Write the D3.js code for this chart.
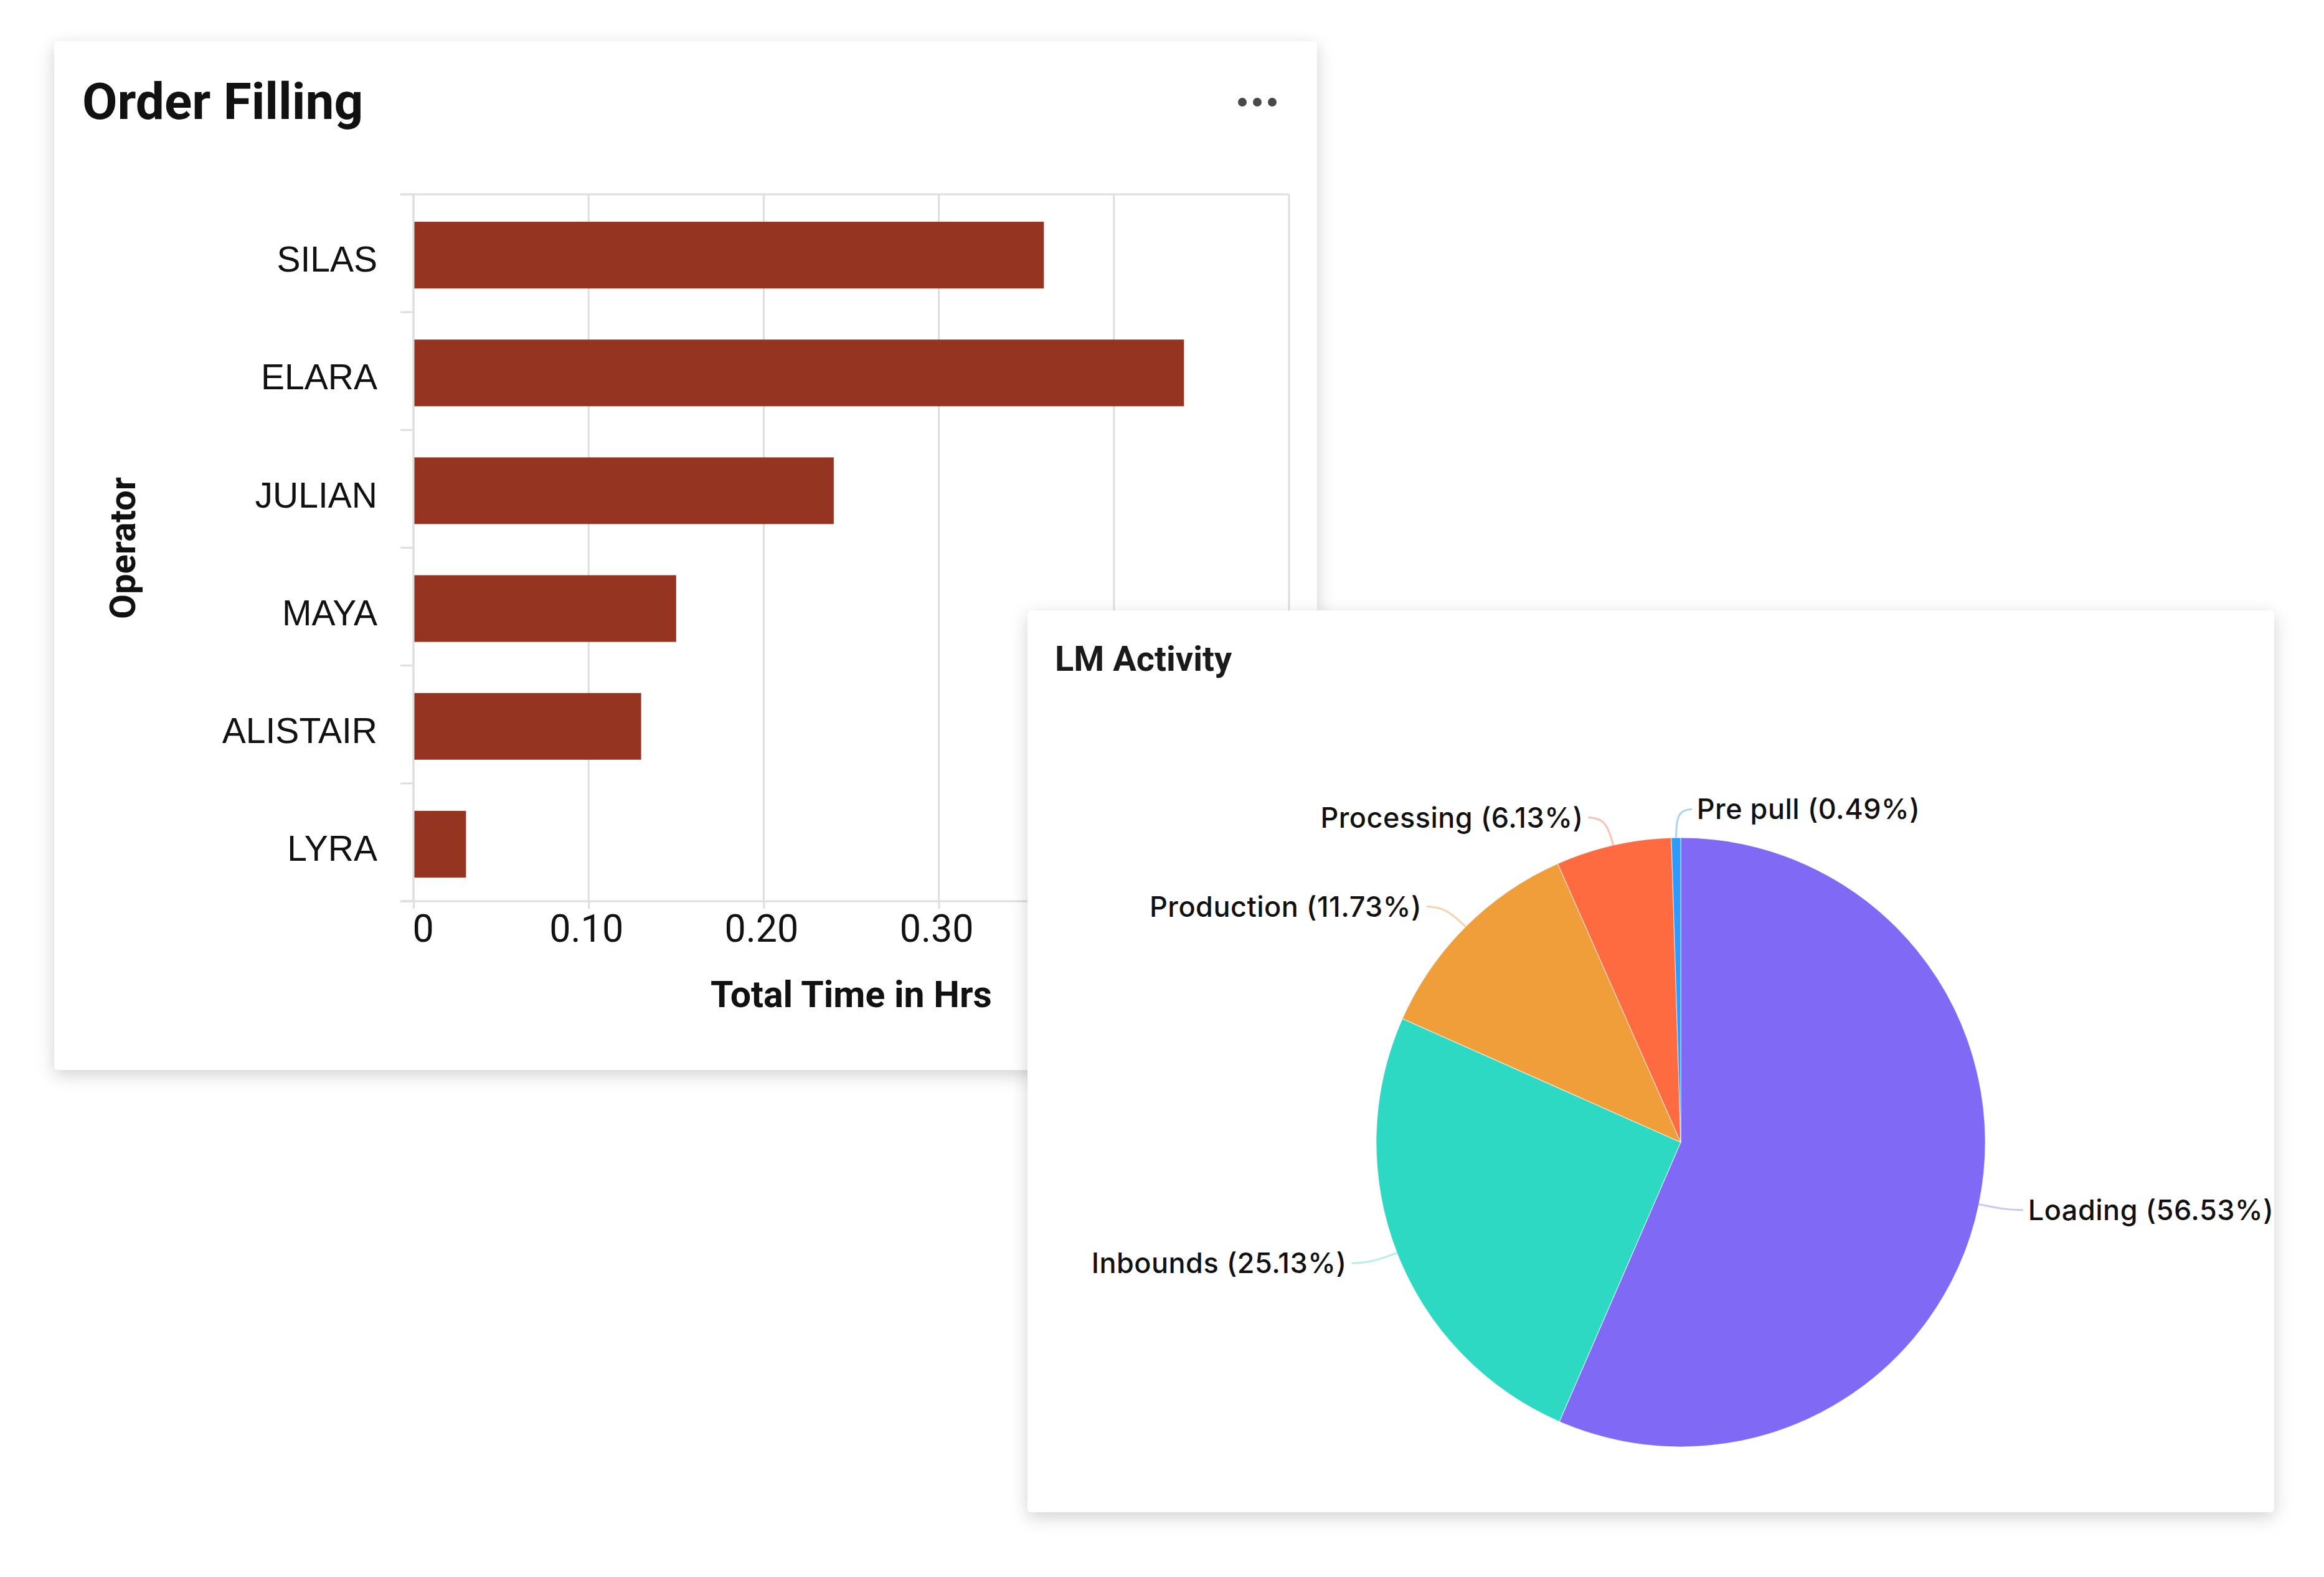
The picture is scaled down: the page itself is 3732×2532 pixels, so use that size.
<!DOCTYPE html>
<html>
<head>
<meta charset="utf-8">
<script src="https://cdn.jsdelivr.net/npm/d3@7"></script>
<style>
  html, body { margin: 0; padding: 0; background: #ffffff; }
  svg { display: block; }
</style>
</head>
<body>
<script>
// ---------- data ----------
const operators = ["SILAS", "ELARA", "JULIAN", "MAYA", "ALISTAIR", "LYRA"];
const totalHours = [0.36, 0.44, 0.24, 0.15, 0.13, 0.03];
const xTickValues = [0, 0.1, 0.2, 0.3, 0.4, 0.5];

const activities = ["Loading", "Inbounds", "Production", "Processing", "Pre pull"];
const activityShare = [56.53, 25.13, 11.73, 6.13, 0.49];
const activityColors = ["#8069f4", "#2ed9c4", "#f09e3a", "#fe6b41", "#2e9afe"];
const leaderColors = ["#cdc6f7", "#b5efe7", "#f6d3ad", "#fbc1b1", "#a9d3f9"];

const W = 3732, H = 2532;
const svg = d3.select("body").append("svg").attr("width", W).attr("height", H);

const defs = svg.append("defs");
const f = defs.append("filter").attr("id", "shadow")
  .attr("x", "-5%").attr("y", "-5%").attr("width", "110%").attr("height", "112%");
f.append("feDropShadow").attr("dx", 0).attr("dy", 8).attr("stdDeviation", 14)
  .attr("flood-color", "#000").attr("flood-opacity", 0.18);

// ---------- Card 1 : Order Filling ----------
const card1 = { x: 87, y: 66, w: 2028, h: 1652 };
const card2 = { x: 1650, y: 980, w: 2002, h: 1448 };

svg.append("rect").attr("x", card1.x).attr("y", card1.y).attr("width", card1.w).attr("height", card1.h)
  .attr("rx", 6).attr("fill", "#fff").attr("filter", "url(#shadow)");

svg.append("text").attr("x", 132).attr("y", 191)
  .attr("font-family", "Roboto").attr("font-weight", 700).attr("font-size", 82)
  .attr("fill", "#111").text("Order Filling");

// menu dots
svg.append("g").selectAll("circle").data([0, 1, 2]).join("circle")
  .attr("cx", d => 1995 + d * 24).attr("cy", 164).attr("r", 7).attr("fill", "#484848");

const plot = { left: 664, right: 2070, top: 312, bottom: 1447 };
const x = d3.scaleLinear().domain([0, 0.5]).range([plot.left, plot.right]);
const y = d3.scaleBand().domain(operators).range([plot.top, plot.bottom])
  .paddingInner(0.434).paddingOuter(0.217);

const gridColor = "#dedede";
const g1 = svg.append("g");

// vertical grid lines
g1.selectAll("line.grid").data(xTickValues).join("line").attr("class", "grid")
  .attr("x1", d => x(d)).attr("x2", d => x(d))
  .attr("y1", plot.top).attr("y2", plot.bottom)
  .attr("stroke", gridColor).attr("stroke-width", 3);

// top line
g1.append("line").attr("x1", plot.left - 21).attr("x2", plot.right)
  .attr("y1", plot.top).attr("y2", plot.top).attr("stroke", gridColor).attr("stroke-width", 3);

// y band-boundary ticks
const step = y.step();
const boundaries = d3.range(operators.length + 1).map(i => plot.top + i * step);
g1.selectAll("line.ytick").data(boundaries).join("line").attr("class", "ytick")
  .attr("x1", plot.left - 21).attr("x2", plot.left)
  .attr("y1", d => d).attr("y2", d => d)
  .attr("stroke", gridColor).attr("stroke-width", 3);

// bars
g1.selectAll("rect.bar").data(operators).join("rect").attr("class", "bar")
  .attr("x", x(0)).attr("y", d => y(d) + 3)
  .attr("width", (d, i) => x(totalHours[i]) - x(0))
  .attr("height", y.bandwidth())
  .attr("fill", "#953421");

// x axis (labels that fall under the overlapping LM Activity card are not visible)
const visibleTicks = xTickValues.filter(v => x(v) + 40 < card2.x);
const xAxis = d3.axisBottom(x).tickValues(xTickValues).tickSize(12).tickPadding(10)
  .tickFormat(d => visibleTicks.includes(d) ? (d === 0 ? "0" : d3.format(".2f")(d)) : "");
const xg = g1.append("g").attr("transform", `translate(0,${plot.bottom})`).call(xAxis);
xg.select(".domain").attr("stroke", gridColor).attr("stroke-width", 3)
  .attr("d", `M${plot.left - 21},0H${plot.right}`);
xg.selectAll(".tick line").attr("stroke", gridColor).attr("stroke-width", 3);
xg.selectAll(".tick text").attr("font-family", "Roboto").attr("font-size", 61)
  .attr("fill", "#111").attr("dy", "0.71em")
  .attr("text-anchor", (d, i) => i === 0 ? "start" : "middle")
  .attr("dx", (d, i) => i === 0 ? -2 : -4);
xg.selectAll(".tick text").filter(function () { return this.textContent === ""; }).remove();

// y labels
const yAxis = d3.axisLeft(y).tickSize(0).tickPadding(58);
const yg = g1.append("g").attr("transform", `translate(${plot.left},0)`).call(yAxis);
yg.select(".domain").attr("stroke", gridColor).attr("stroke-width", 3)
  .attr("d", `M0,${plot.top}V${plot.bottom}`);
yg.selectAll(".tick text").attr("font-family", "Liberation Sans, Arial").attr("font-size", 57)
  .attr("fill", "#111").attr("dy", "0.52em");

// axis titles
g1.append("text").attr("x", (plot.left + plot.right) / 2).attr("y", 1617)
  .attr("text-anchor", "middle").attr("font-family", "Roboto").attr("font-weight", 700)
  .attr("font-size", 59).attr("fill", "#111").text("Total Time in Hrs");
g1.append("text").attr("transform", "translate(217,880) rotate(-90)")
  .attr("text-anchor", "middle").attr("font-family", "Roboto").attr("font-weight", 700)
  .attr("font-size", 58).attr("fill", "#111").text("Operator");

// ---------- Card 2 : LM Activity ----------
svg.append("rect").attr("x", card2.x).attr("y", card2.y).attr("width", card2.w).attr("height", card2.h)
  .attr("rx", 6).attr("fill", "#fff").attr("filter", "url(#shadow)");

svg.append("text").attr("x", 1694).attr("y", 1077)
  .attr("font-family", "Roboto").attr("font-weight", 700).attr("font-size", 56)
  .attr("fill", "#1a1a1a").text("LM Activity");

const cx = 2699, cy = 1834, R = 489;
const pieData = activities.map((name, i) => ({ name, value: activityShare[i], color: activityColors[i], lc: leaderColors[i] }));
const pie = d3.pie().value(d => d.value).sort(null);
const arcs = pie(pieData);
const arc = d3.arc().innerRadius(0).outerRadius(R);

const g2 = svg.append("g").attr("transform", `translate(${cx},${cy})`);
g2.selectAll("path.slice").data(arcs).join("path").attr("class", "slice")
  .attr("d", arc).attr("fill", d => d.data.color)
  .attr("stroke", "#ffffff").attr("stroke-width", 1.2).attr("stroke-opacity", 0.6);

const seg1 = 46, seg2 = 30, gap = 8;
arcs.forEach(a => {
  const mid = (a.startAngle + a.endAngle) / 2;
  const sx = Math.sin(mid), sy = -Math.cos(mid);
  const p0 = [R * sx, R * sy];
  const p1 = [(R + seg1) * sx, (R + seg1) * sy];
  const right = p1[0] > -20;
  const p2 = [p1[0] + (right ? seg2 - 4 : -seg2), p1[1]];
  g2.append("path")
    .attr("d", d3.line().curve(d3.curveBundle.beta(0.85))([p0, p1, p2]))
    .attr("fill", "none").attr("stroke", a.data.lc).attr("stroke-width", 3);
  g2.append("text")
    .attr("x", p2[0] + (right ? gap : -gap)).attr("y", p1[1])
    .attr("dy", "0.36em")
    .attr("text-anchor", right ? "start" : "end")
    .attr("font-family", "Inter").attr("font-weight", 500).attr("font-size", 45)
    .attr("letter-spacing", 0.5).attr("fill", "#111")
    .text(`${a.data.name} (${d3.format(".2f")(a.data.value)}%)`);
});
</script>
</body>
</html>
